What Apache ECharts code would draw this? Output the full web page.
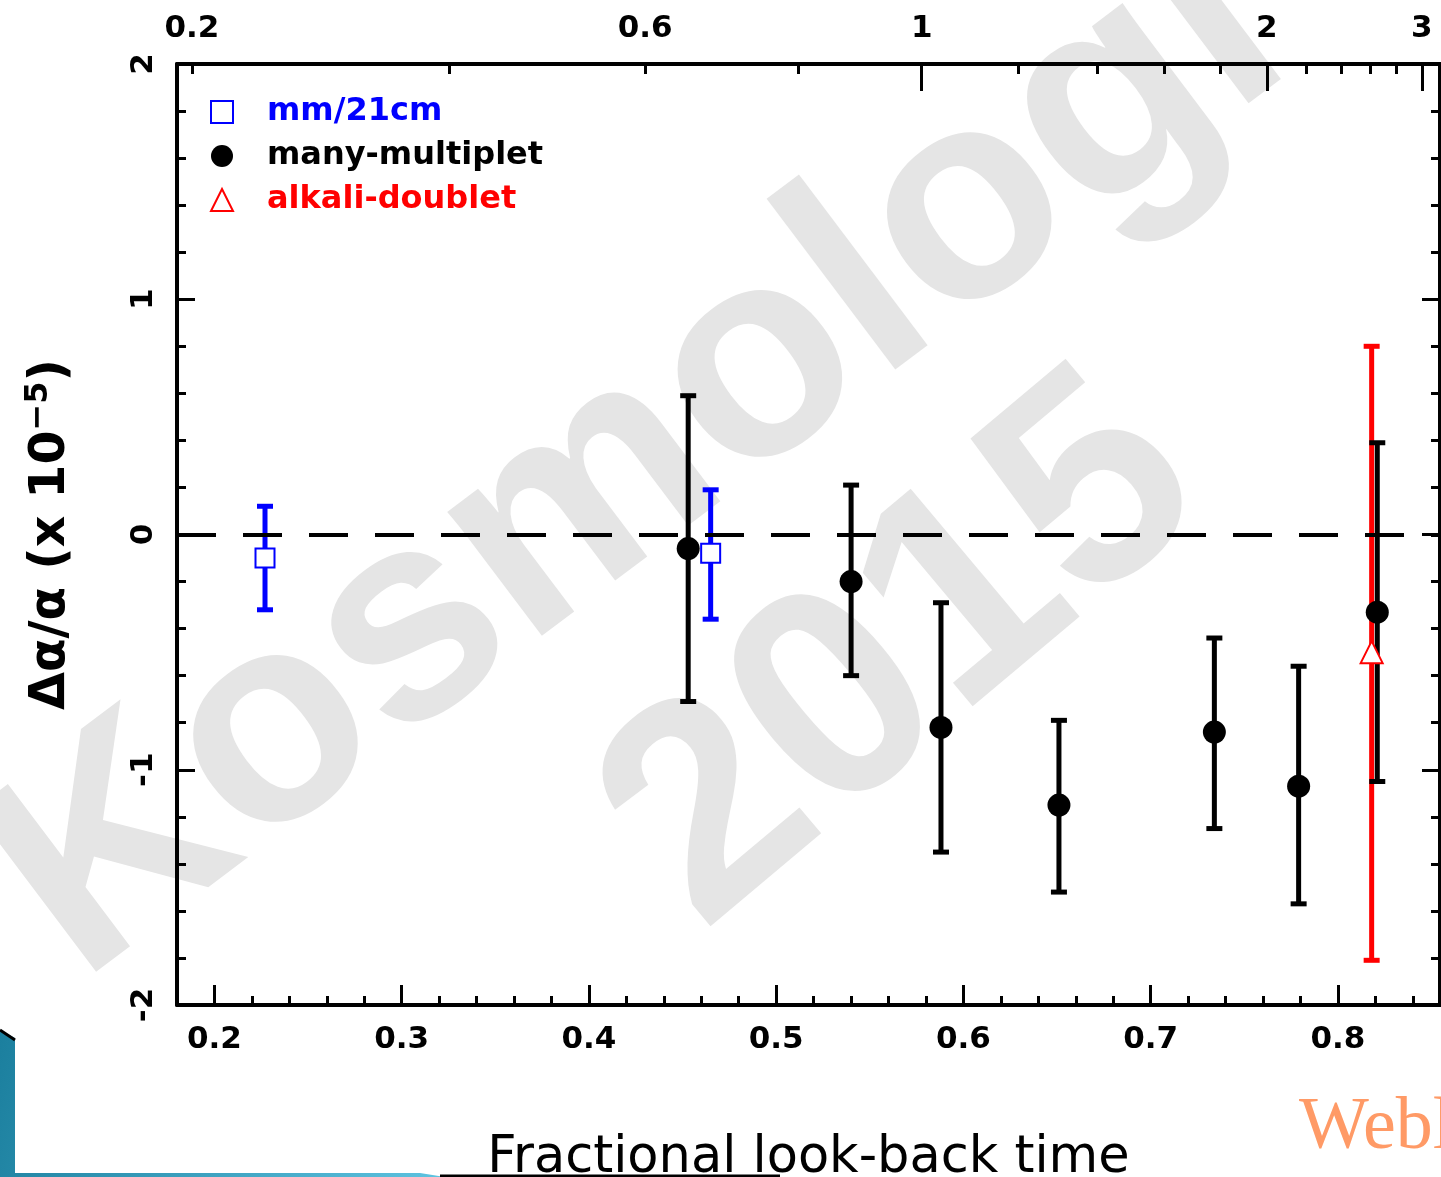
<!DOCTYPE html>
<html>
<head>
<meta charset="utf-8">
<script src="https://cdn.jsdelivr.net/npm/echarts@6/dist/echarts.min.js"></script>
<style>
html, body { margin: 0; padding: 0; background: #fff; }
#main { width: 1441px; height: 1177px; }
</style>
</head>
<body>
<div id="main"></div>
<script>
// x = fractional look-back time, y = delta alpha / alpha (x 1e-5), lo/hi = ends of the error bar
var mmX = [0.227, 0.465];
var mmY = [-0.10, -0.08];
var mmLo = [-0.32, -0.36];
var mmHi = [0.12, 0.19];

var manyX = [0.453, 0.540, 0.588, 0.651, 0.734, 0.779, 0.821];
var manyY = [-0.06, -0.20, -0.82, -1.15, -0.84, -1.07, -0.33];
var manyLo = [-0.71, -0.60, -1.35, -1.52, -1.25, -1.57, -1.05];
var manyHi = [0.59, 0.21, -0.29, -0.79, -0.44, -0.56, 0.39];

var alkX = [0.818];
var alkY = [-0.50];
var alkLo = [-1.81];
var alkHi = [0.80];

// bottom axis ticks
var xMajor = [0.2, 0.3, 0.4, 0.5, 0.6, 0.7, 0.8];
var xMinor = [];
for (var v = 0.18; v < 0.855; v += 0.02) { xMinor.push(Math.round(v * 100) / 100); }

// top axis: redshift, placed at its look-back time
var zMinorPos = [0.188, 0.3255, 0.430, 0.512, 0.6295, 0.6717, 0.7075, 0.7374, 0.7833, 0.802, 0.8175, 0.8314, 0.8548];
var zMajorPos = [0.5777, 0.762, 0.8448];
var zLabels = ['0.2', '0.6', '1', '2', '3'];
var zLabelPos = [0.188, 0.430, 0.5777, 0.762, 0.8448];

var FONT = '"DejaVu Sans", "Liberation Sans", sans-serif';
var XMIN = 0.18, XMAX = 0.8545;

function pairs(xs, lo, hi) {
    return xs.map(function(x, i) { return [x, lo[i], hi[i]]; });
}
function points(xs, ys) {
    return xs.map(function(x, i) { return [x, ys[i]]; });
}

function errorBar(color, width, cap) {
    return function(params, api) {
        var top = api.coord([api.value(0), api.value(2)]);
        var bot = api.coord([api.value(0), api.value(1)]);
        var st = { stroke: color, lineWidth: width };
        return {
            type: 'group',
            children: [
                { type: 'line', shape: { x1: top[0], y1: top[1], x2: bot[0], y2: bot[1] }, style: st },
                { type: 'line', shape: { x1: top[0] - cap, y1: top[1], x2: top[0] + cap, y2: top[1] }, style: st },
                { type: 'line', shape: { x1: bot[0] - cap, y1: bot[1], x2: bot[0] + cap, y2: bot[1] }, style: st }
            ]
        };
    };
}

function tickAxis(pos, values, len, showLine) {
    return {
        type: 'value', position: pos, min: XMIN, max: XMAX,
        axisLine: { show: showLine, onZero: false, lineStyle: { color: '#000', width: 4 } },
        axisTick: { show: true, inside: true, length: len, customValues: values, lineStyle: { color: '#000', width: 3 } },
        axisLabel: { show: false },
        splitLine: { show: false }
    };
}

var chart = echarts.init(document.getElementById('main'));

var topMajor = tickAxis('top', zMajorPos, 27, true);
topMajor.axisLabel = {
    show: true, customValues: zLabelPos, margin: 20,
    color: '#000', fontFamily: FONT, fontWeight: 'bold', fontSize: 31,
    formatter: function(val) {
        var best = 0;
        for (var i = 1; i < zLabelPos.length; i++) {
            if (Math.abs(zLabelPos[i] - val) < Math.abs(zLabelPos[best] - val)) best = i;
        }
        return zLabels[best];
    }
};

var bottomMajor = tickAxis('bottom', xMajor, 20, true);
bottomMajor.axisLabel = {
    show: true, customValues: xMajor, margin: 19,
    color: '#000', fontFamily: FONT, fontWeight: 'bold', fontSize: 31,
    formatter: function(val) { return val.toFixed(1); }
};
bottomMajor.name = 'Fractional look-back time';
bottomMajor.nameLocation = 'middle';
bottomMajor.nameGap = 128;
bottomMajor.nameTextStyle = { color: '#000', fontFamily: FONT, fontSize: 51 };

function yAxisDef(pos, labels) {
    return {
        type: 'value', position: pos, min: -2, max: 2, interval: 1,
        axisLine: { show: true, onZero: false, lineStyle: { color: '#000', width: 4 } },
        axisTick: { show: true, inside: true, length: 18, lineStyle: { color: '#000', width: 3 } },
        minorTick: { show: true, splitNumber: 5, length: 9, lineStyle: { color: '#000', width: 3 } },
        axisLabel: { show: labels, rotate: 90, margin: 18, color: '#000', fontFamily: FONT, fontWeight: 'bold', fontSize: 31 },
        splitLine: { show: false },
        minorSplitLine: { show: false }
    };
}

var yLeft = yAxisDef('left', true);
yLeft.name = '{a|Δα/α (x 10}{s|−5}{a|)}';
yLeft.nameLocation = 'middle';
yLeft.nameRotate = 90;
yLeft.nameGap = 98;
yLeft.nameTextStyle = {
    rich: {
        a: { fontFamily: FONT, fontWeight: 'bold', fontSize: 49, color: '#000', lineHeight: 56 },
        s: { fontFamily: FONT, fontWeight: 'bold', fontSize: 32, color: '#000', verticalAlign: 'top', lineHeight: 34 }
    }
};

var option = {
    animation: false,
    backgroundColor: '#fff',
    grid: { left: 177, right: 1, top: 64, bottom: 172, containLabel: false, outerBoundsMode: 'none' },
    legend: {
        orient: 'vertical', left: 205, top: 91,
        itemWidth: 22, itemHeight: 22, itemGap: 12,
        textStyle: { fontFamily: FONT, fontWeight: 'bold', fontSize: 32, padding: [0, 0, 0, 29] },
        data: [
            { name: 'mm/21cm', textStyle: { color: '#0000ff' } },
            { name: 'many-multiplet', textStyle: { color: '#000' } },
            { name: 'alkali-doublet', textStyle: { color: '#ff0000' } }
        ]
    },
    graphic: [
        {
            type: 'text', x: 640, y: 460, rotation: 37 * Math.PI / 180, z: -10, silent: true,
            style: { text: 'Kosmologi', fontFamily: '"Liberation Sans", sans-serif', fontWeight: 'bold', fontSize: 295,
                fill: '#e5e5e5', align: 'center', verticalAlign: 'middle', textAlign: 'center', textVerticalAlign: 'middle' }
        },
        {
            type: 'text', x: 905, y: 655, rotation: 40 * Math.PI / 180, z: -10, silent: true,
            style: { text: '2015', fontFamily: '"Liberation Sans", sans-serif', fontWeight: 'bold', fontSize: 300,
                fill: '#e5e5e5', align: 'center', verticalAlign: 'middle', textAlign: 'center', textVerticalAlign: 'middle' }
        },
        {
            type: 'text', x: 1299, y: 1166, silent: true,
            style: { text: 'Webl', fontFamily: '"Liberation Serif", serif', fontSize: 74, fill: '#ff9a66',
                align: 'left', verticalAlign: 'bottom', textAlign: 'left', textVerticalAlign: 'bottom' }
        },
        {
            type: 'polygon', silent: true,
            shape: { points: [[0, 1030], [15, 1038], [15, 1173], [420, 1173], [445, 1177], [0, 1177]] },
            style: { fill: new echarts.graphic.LinearGradient(0, 0, 1, 1, [
                { offset: 0, color: '#1b7f9e' }, { offset: 1, color: '#5ec3e0' }]) }
        },
        {
            type: 'polyline', silent: true,
            shape: { points: [[0, 1030], [15, 1040]] },
            style: { stroke: '#000', lineWidth: 3 }
        },
        {
            type: 'line', silent: true,
            shape: { x1: 440, y1: 1176, x2: 780, y2: 1176 },
            style: { stroke: '#000', lineWidth: 3 }
        }
    ],
    xAxis: [
        bottomMajor,
        tickAxis('bottom', xMinor, 9, false),
        topMajor,
        tickAxis('top', zMinorPos, 10, false)
    ],
    yAxis: [yLeft, yAxisDef('right', false)],
    series: [
        {
            name: 'zero', type: 'line', data: [], silent: true,
            markLine: {
                silent: true, symbol: ['none', 'none'], label: { show: false },
                lineStyle: { color: '#000', width: 4, type: [39, 27] },
                data: [{ yAxis: 0 }]
            }
        },
        {
            name: 'alkali err', type: 'custom', renderItem: errorBar('#ff0000', 5, 8),
            encode: { x: 0, y: [1, 2] }, data: pairs(alkX, alkLo, alkHi), z: 3
        },
        {
            name: 'mm err', type: 'custom', renderItem: errorBar('#0000ff', 5, 8),
            encode: { x: 0, y: [1, 2] }, data: pairs(mmX, mmLo, mmHi), z: 3
        },
        {
            name: 'many err', type: 'custom', renderItem: errorBar('#000', 5, 8),
            encode: { x: 0, y: [1, 2] }, data: pairs(manyX, manyLo, manyHi), z: 4
        },
        {
            name: 'mm/21cm', type: 'scatter', symbol: 'rect', symbolSize: 19, z: 5,
            itemStyle: { color: '#fff', borderColor: '#0000ff', borderWidth: 2, opacity: 1 },
            data: points(mmX, mmY)
        },
        {
            name: 'many-multiplet', type: 'scatter', symbol: 'circle', symbolSize: 23, z: 5,
            itemStyle: { color: '#000', opacity: 1 },
            data: points(manyX, manyY)
        },
        {
            name: 'alkali-doublet', type: 'scatter', symbol: 'triangle', symbolSize: 22, z: 6,
            itemStyle: { color: '#fff', borderColor: '#ff0000', borderWidth: 2, opacity: 1 },
            data: points(alkX, alkY)
        }
    ]
};

chart.setOption(option);
</script>
</body>
</html>
